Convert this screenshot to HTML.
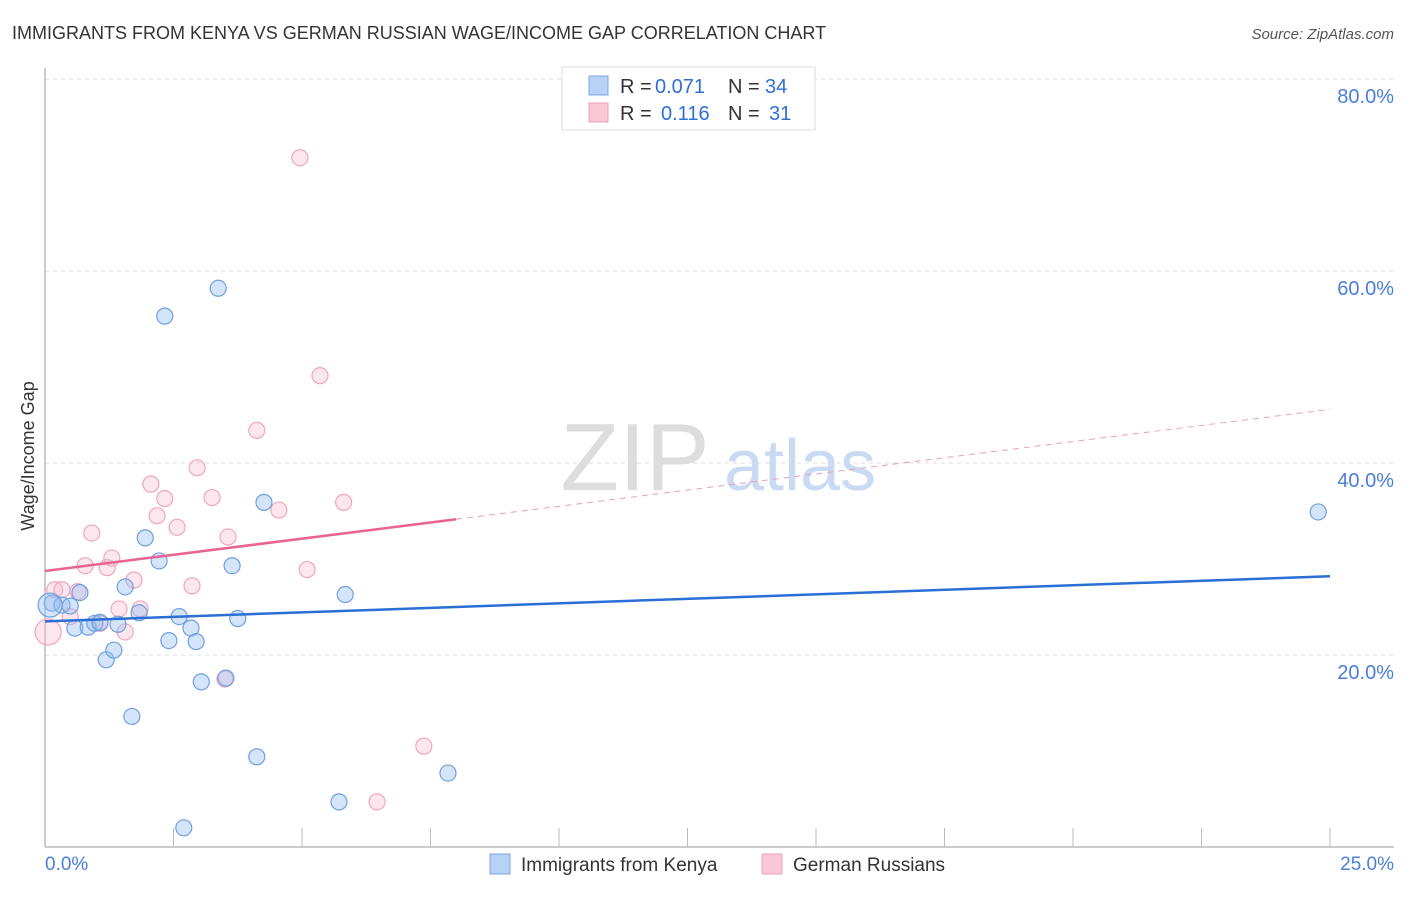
<!DOCTYPE html>
<html><head><meta charset="utf-8"><style>
body{margin:0;background:#fff;font-family:"Liberation Sans",sans-serif}
svg text{font-family:"Liberation Sans",sans-serif}
</style></head><body>
<svg id="chart" width="1406" height="892">
<text x="12" y="39" font-size="18" fill="#333">IMMIGRANTS FROM KENYA VS GERMAN RUSSIAN WAGE/INCOME GAP CORRELATION CHART</text>
<text x="1394" y="39" font-size="15" fill="#555" font-style="italic" text-anchor="end">Source: ZipAtlas.com</text>
<g id="grid"></g>
<line x1="45" y1="68" x2="45" y2="847" stroke="#bbb" stroke-width="1.5"/>
<line x1="45" y1="847" x2="1394" y2="847" stroke="#bbb" stroke-width="1.5"/>
<text x="34" y="456" font-size="18" fill="#333" text-anchor="middle" transform="rotate(-90 34 456)">Wage/Income Gap</text>
<g><text x="635" y="490" font-size="96" fill="#ddd" font-family="Liberation Serif,serif" text-anchor="middle">ZIP</text><text x="800" y="490" font-size="72" fill="#c9daf2" text-anchor="middle">atlas</text></g>
<g id="marks"></g>
<text x="45" y="870" font-size="19" fill="#4a7fd6">0.0%</text>
<text x="1394" y="870" font-size="19" fill="#4a7fd6" text-anchor="end">25.0%</text>
<g>
<rect x="562" y="67" width="253" height="63" fill="#fff" stroke="#ddd"/>
<rect x="589" y="76" width="19" height="19" fill="#b7d2f5" stroke="#7aa7e6"/>
<rect x="589" y="103" width="19" height="19" fill="#f9c8d6" stroke="#f0a0b8"/>
<text x="620" y="93" font-size="20" fill="#333">R =</text>
<text x="655" y="93" font-size="20" fill="#2f6fd6">0.071</text>
<text x="728" y="93" font-size="20" fill="#333">N =</text>
<text x="765" y="93" font-size="20" fill="#2f6fd6">34</text>
<text x="620" y="120" font-size="20" fill="#333">R =</text>
<text x="661" y="120" font-size="20" fill="#2f6fd6">0.116</text>
<text x="728" y="120" font-size="20" fill="#333">N =</text>
<text x="769" y="120" font-size="20" fill="#2f6fd6">31</text>
</g>
<g>
<rect x="490" y="854" width="20" height="20" fill="#b7d2f5" stroke="#7aa7e6"/>
<text x="521" y="871" font-size="19" fill="#333">Immigrants from Kenya</text>
<rect x="762" y="854" width="20" height="20" fill="#f9c8d6" stroke="#f0a0b8"/>
<text x="793" y="871" font-size="19" fill="#333">German Russians</text>
</g>
</svg>
<script>
const yTicks=[20,40,60,80];
const yTickLabels=["20.0%","40.0%","60.0%","80.0%"];
const xTicks=[0,2.5,5,7.5,10,12.5,15,17.5,20,22.5,25];
const kenyaX=[0.14,0.33,0.49,0.68,0.58,0.84,0.97,1.07,1.19,1.34,1.42,1.56,1.69,1.83,1.95,2.22,2.33,2.41,2.61,2.70,2.84,2.94,3.04,3.37,3.52,3.64,3.75,4.12,4.26,5.72,5.84,7.84,24.77,0.10];
const kenyaY=[25.4,25.2,25.1,26.5,22.8,22.9,23.3,23.4,19.5,20.5,23.2,27.1,13.6,24.4,32.2,29.8,55.3,21.5,24.0,2.0,22.8,21.4,17.2,58.2,17.6,29.3,23.8,9.4,35.9,4.7,26.3,7.7,34.9,25.2];
const kenyaR=[8,8,8,8,8,8,8,8,8,8,8,8,8,8,8,8,8,8,8,8,8,8,8,8,8,8,8,8,8,8,8,8,8,12];
const grX=[0.06,0.19,0.33,0.49,0.64,0.78,0.91,1.07,1.21,1.30,1.44,1.56,1.73,1.85,2.06,2.18,2.33,2.57,2.86,2.96,3.25,3.56,3.50,4.12,4.55,4.96,5.10,5.35,5.81,6.46,7.37];
const grY=[22.4,26.8,26.8,24.0,26.6,29.3,32.7,23.3,29.1,30.1,24.8,22.4,27.8,24.8,37.8,34.5,36.3,33.3,27.2,39.5,36.4,32.3,17.5,43.4,35.1,71.8,28.9,49.1,35.9,4.7,10.5];
const grR=[13,8,8,8,8,8,8,8,8,8,8,8,8,8,8,8,8,8,8,8,8,8,8,8,8,8,8,8,8,8,8];
const kenyaTrend=[23.5,28.2];
const grTrend=[28.75,45.6];
const grSolidEnd=8.0;
const NS="http://www.w3.org/2000/svg";
const sx=v=>45+v*(1285/25);
const sy=v=>847-v*9.6;
const grid=document.getElementById('grid'),marks=document.getElementById('marks'),svg=document.getElementById('chart');
function mk(t,a,p){const e=document.createElementNS(NS,t);for(const k in a)e.setAttribute(k,a[k]);p.appendChild(e);return e;}
yTicks.forEach((t,i)=>{
 const l=mk('line',{x1:45,x2:1394,y1:sy(t),y2:sy(t),stroke:'#ddd','stroke-dasharray':'4,4'},grid);
 
 
 const tx=mk('text',{x:1394,y:sy(t)+24,'font-size':20,fill:'#4a7fd6','text-anchor':'end'},svg);
 tx.textContent=yTickLabels[i];
 
 
});
xTicks.forEach(t=>{
 const l=mk('line',{x1:sx(t),x2:sx(t),y1:828,y2:847,stroke:'#bbb'},grid);
 
 
});
grX.forEach((x,i)=>{
 const c=mk('circle',{cx:sx(x),cy:sy(grY[i]),r:grR[i],fill:'rgba(248,185,205,0.35)',stroke:'#f0a5bc','stroke-width':1.2},marks);
 
 
});
kenyaX.forEach((x,i)=>{
 const c=mk('circle',{cx:sx(x),cy:sy(kenyaY[i]),r:kenyaR[i],fill:'rgba(150,190,240,0.4)',stroke:'#6f9fe2','stroke-width':1.2},marks);
 
 
});
const gy=x=>grTrend[0]+(grTrend[1]-grTrend[0])*x/25;
const l1=mk('line',{x1:sx(0),y1:sy(kenyaTrend[0]),x2:sx(25),y2:sy(kenyaTrend[1]),stroke:'#2a6fd6','stroke-width':2.5},marks);


const l2=mk('line',{x1:sx(0),y1:sy(gy(0)),x2:sx(grSolidEnd),y2:sy(gy(grSolidEnd)),stroke:'#e8638f','stroke-width':2.5},marks);


const l3=mk('line',{x1:sx(grSolidEnd),y1:sy(gy(grSolidEnd)),x2:sx(25),y2:sy(gy(25)),stroke:'#e8a0b8','stroke-width':1,'stroke-dasharray':'6,5'},marks);


</script>
</body></html>
